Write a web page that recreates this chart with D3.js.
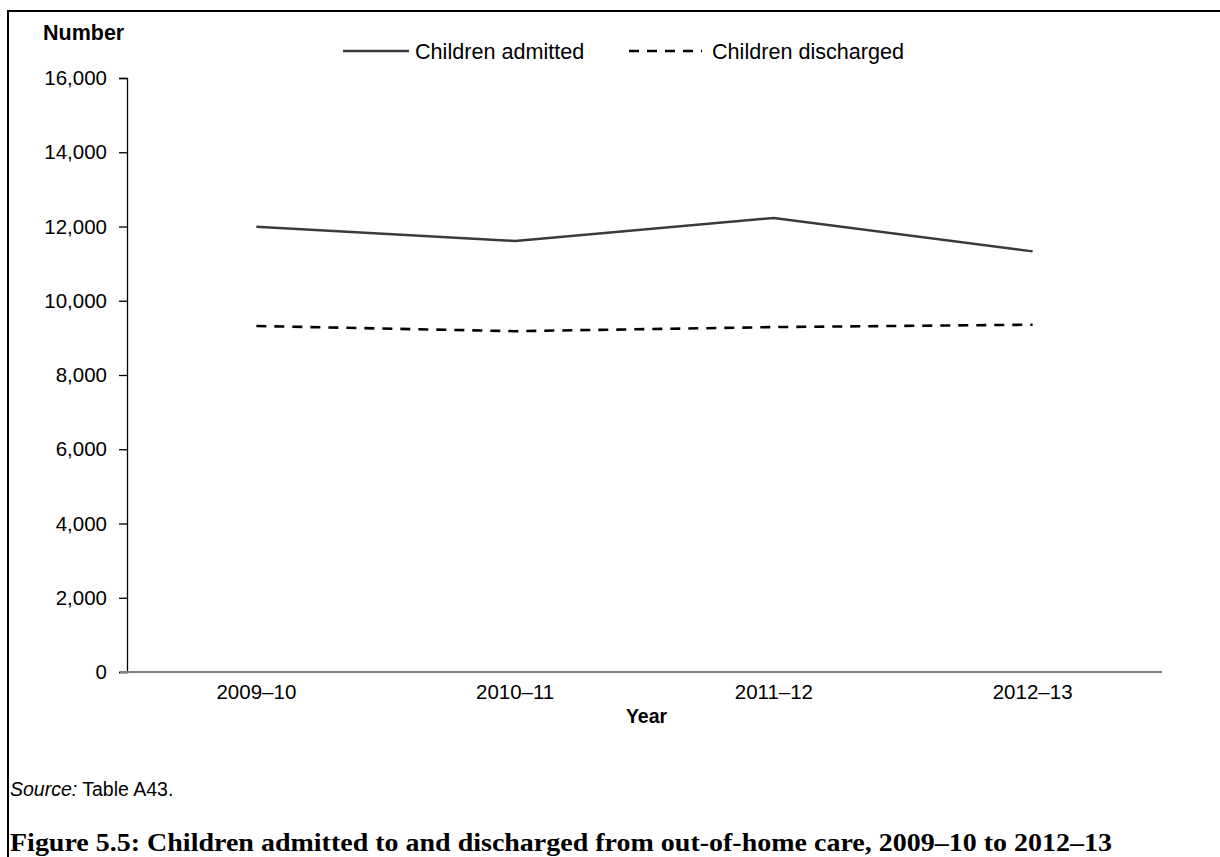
<!DOCTYPE html>
<html>
<head>
<meta charset="utf-8">
<script src="https://cdn.jsdelivr.net/npm/d3@7"></script>
<style>
  html, body { margin: 0; padding: 0; background: #fff; }
  svg { display: block; }
</style>
</head>
<body>
<svg id="chart" width="1220" height="857"></svg>
<script>
const categories = ["2009–10", "2010–11", "2011–12", "2012–13"];
const admitted = [11990, 11610, 12230, 11330];
const discharged = [9320, 9180, 9290, 9355];
const yTicks = [0, 2000, 4000, 6000, 8000, 10000, 12000, 14000, 16000];
const seriesNames = ["Children admitted", "Children discharged"];

const svg = d3.select("#chart");
const W = 1220, H = 857;
const sans = "'Liberation Sans', Arial, sans-serif";
const serif = "'Liberation Serif', 'Times New Roman', serif";
const fs = 20.5;

// frame
svg.append("line").attr("x1", 8).attr("x2", W).attr("y1", 11).attr("y2", 11)
  .attr("stroke", "#000").attr("stroke-width", 2);
svg.append("line").attr("x1", 8).attr("x2", 8).attr("y1", 10).attr("y2", H)
  .attr("stroke", "#000").attr("stroke-width", 2);

const plot = { left: 127, right: 1162, top: 78, bottom: 672 };

const x = d3.scaleBand().domain(categories).range([plot.left, plot.right]);
const y = d3.scaleLinear().domain([0, 16000]).range([plot.bottom, plot.top]);
const xc = d => x(d) + x.bandwidth() / 2;

// y axis
const yAxis = svg.append("g").attr("transform", `translate(${plot.left},0)`)
  .call(d3.axisLeft(y).tickValues(yTicks).tickFormat(d3.format(",")).tickSizeOuter(0).tickSize(8).tickPadding(12));
yAxis.select(".domain").attr("stroke", "#000").attr("stroke-width", 1.3);
yAxis.selectAll(".tick line").attr("stroke", "#000").attr("stroke-width", 1.3);
yAxis.selectAll("text").attr("font-family", sans).attr("font-size", fs).attr("fill", "#000");

// x axis
const xAxis = svg.append("g").attr("transform", `translate(0,${plot.bottom})`)
  .call(d3.axisBottom(x).tickSize(0).tickPadding(12));
xAxis.select(".domain").remove();
xAxis.append("line").attr("x1", plot.left - 7).attr("x2", plot.right)
  .attr("y1", 0).attr("y2", 0).attr("stroke", "#808080").attr("stroke-width", 2);
xAxis.selectAll("text").attr("font-family", sans).attr("font-size", fs).attr("fill", "#000");

// axis titles
svg.append("text").attr("x", 43).attr("y", 40).text("Number")
  .attr("font-family", sans).attr("font-size", 21.5).attr("font-weight", "bold");
svg.append("text").attr("x", (plot.left + plot.right) / 2 + 2).attr("y", 723).attr("text-anchor", "middle")
  .text("Year").attr("font-family", sans).attr("font-size", fs - 1).attr("font-weight", "bold");

// lines
const line = d3.line().x((d, i) => xc(categories[i])).y(d => y(d));
svg.append("path").datum(admitted).attr("d", line).attr("fill", "none")
  .attr("stroke", "#3a3a3a").attr("stroke-width", 2.5);
svg.append("path").datum(discharged).attr("d", line).attr("fill", "none")
  .attr("stroke", "#000").attr("stroke-width", 2.6).attr("stroke-dasharray", "10,8");

// legend
const ly = 51;
svg.append("line").attr("x1", 343).attr("x2", 409).attr("y1", ly).attr("y2", ly)
  .attr("stroke", "#3a3a3a").attr("stroke-width", 2.5);
svg.append("text").attr("x", 415).attr("y", ly + 7.5).text(seriesNames[0])
  .attr("font-family", sans).attr("font-size", 21.6);
svg.append("line").attr("x1", 629).attr("x2", 702).attr("y1", ly).attr("y2", ly)
  .attr("stroke", "#000").attr("stroke-width", 2.6).attr("stroke-dasharray", "10,8");
svg.append("text").attr("x", 712).attr("y", ly + 7.5).text(seriesNames[1])
  .attr("font-family", sans).attr("font-size", 21.6);

// source
const src = svg.append("text").attr("x", 10).attr("y", 796)
  .attr("font-family", sans).attr("font-size", 19.5);
src.append("tspan").attr("font-style", "italic").text("Source:");
src.append("tspan").text(" Table A43.");

// caption
svg.append("text").attr("x", 10).attr("y", 851)
  .attr("font-family", serif).attr("font-size", 26).attr("font-weight", "bold")
  .attr("textLength", 1102).attr("lengthAdjust", "spacingAndGlyphs")
  .text("Figure 5.5: Children admitted to and discharged from out-of-home care, 2009–10 to 2012–13");
</script>
</body>
</html>
